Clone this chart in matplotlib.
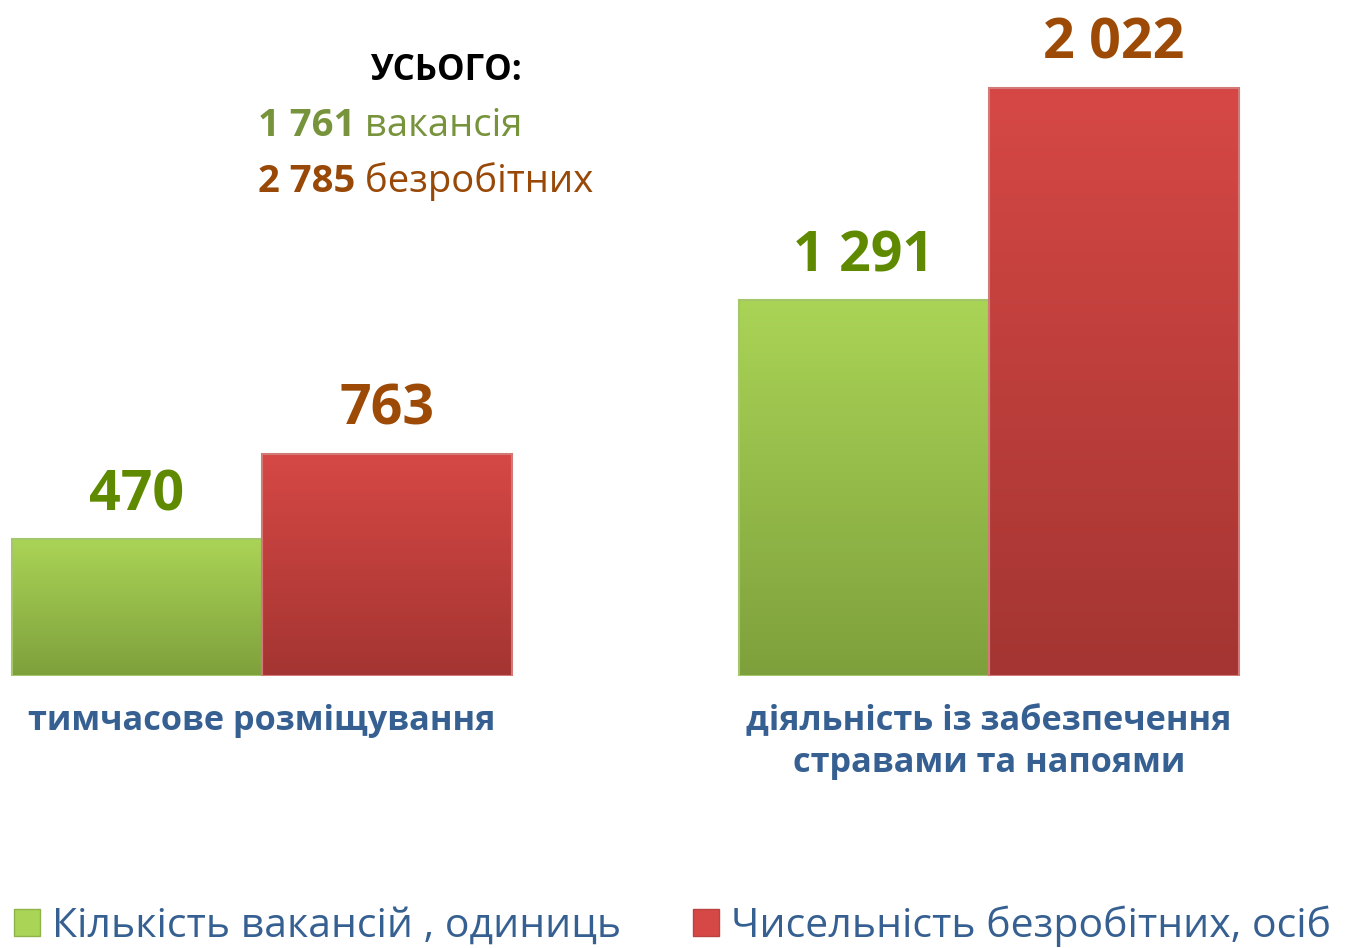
import numpy as np
import matplotlib
matplotlib.use("Agg")
import matplotlib.pyplot as plt
from matplotlib.colors import LinearSegmentedColormap
from matplotlib.patches import Patch

plt.rcParams['font.family'] = ['Open Sans', 'DejaVu Sans']

categories = ["тимчасове розміщування", "діяльність із забезпечення\nстравами та напоями"]
vacancies = [470, 1291]
unemployed = [763, 2022]
value_labels_vac = ["470", "1 291"]
value_labels_unemp = ["763", "2 022"]
series_names = ["Кількість вакансій , одиниць", "Чисельність безробітних, осіб"]
total_vac = "1 761"
total_unemp = "2 785"

green_top, green_bot = "#aad456", "#7ea03c"
red_top, red_bot = "#d64845", "#a43532"
blue = "#376092"

fig = plt.figure(figsize=(13.46, 9.48), dpi=100)
ax = fig.add_axes([0, (948 - 676) / 948, 1, 676 / 948])

x = np.arange(len(categories))
w = 0.344
b1 = ax.bar(x - w / 2, vacancies, w, facecolor="none", edgecolor="#a3c76a", lw=1.5, zorder=2)
b2 = ax.bar(x + w / 2, unemployed, w, facecolor="none", edgecolor="#d27a78", lw=1.5, zorder=2)

# vertical gradient fill clipped to each bar
grad = np.linspace(0, 1, 256).reshape(-1, 1)
for bars, top, bot in [(b1, green_top, green_bot), (b2, red_top, red_bot)]:
    cmap = LinearSegmentedColormap.from_list("g", [bot, top])
    for p in bars:
        im = ax.imshow(grad, cmap=cmap, aspect="auto", origin="lower",
                       extent=[p.get_x(), p.get_x() + p.get_width(), 0, p.get_height()],
                       zorder=1)
        im.set_clip_path(p)

for p, lab in zip(b1, value_labels_vac):
    ax.annotate(lab, (p.get_x() + p.get_width() / 2, p.get_height()), xytext=(0, 21),
                textcoords="offset points", ha="center", va="baseline",
                fontsize=40, fontweight="bold", color="#5f8a00")
for p, lab in zip(b2, value_labels_unemp):
    ax.annotate(lab, (p.get_x() + p.get_width() / 2, p.get_height()), xytext=(0, 21),
                textcoords="offset points", ha="center", va="baseline",
                fontsize=40, fontweight="bold", color="#9c4a06")

ax.set_xlim(-262 / 727, (1346 - 262) / 727)
ax.set_ylim(0, 676 / 0.291)
ax.set_xticks(x)
ax.set_xticklabels(categories, fontsize=24.7, fontweight="bold", color=blue, linespacing=1.3)
ax.tick_params(axis="x", length=0, pad=20)
ax.set_yticks([])
for s in ax.spines.values():
    s.set_visible(False)

# totals
fig.text(370 / 1346, 1 - 80 / 948, "УСЬОГО:", fontsize=25, fontweight="bold", color="black", va="baseline")
t1 = fig.text(258 / 1346, 1 - 136 / 948, total_vac, fontsize=27.5, fontweight="bold", color="#77933c", va="baseline")
ax.annotate(" вакансія", xy=(1, 0), xycoords=t1, fontsize=27.5, color="#77933c", va="bottom")
t2 = fig.text(258 / 1346, 1 - 192 / 948, total_unemp, fontsize=27.5, fontweight="bold", color="#984807", va="baseline")
ax.annotate(" безробітних", xy=(1, 0), xycoords=t2, fontsize=27.5, color="#984807", va="bottom")

handles = [Patch(facecolor=green_top, edgecolor="#8fb34a"), Patch(facecolor=red_top, edgecolor="#b84340")]
fig.legend(handles, series_names, loc="lower left", bbox_to_anchor=(-0.008, -0.025), ncol=2,
           frameon=False, fontsize=29.5, labelcolor=blue, handlelength=0.63, handleheight=0.63,
           handletextpad=0.3, columnspacing=1.75, borderaxespad=0.2)

fig.savefig("out.png", dpi=100)
